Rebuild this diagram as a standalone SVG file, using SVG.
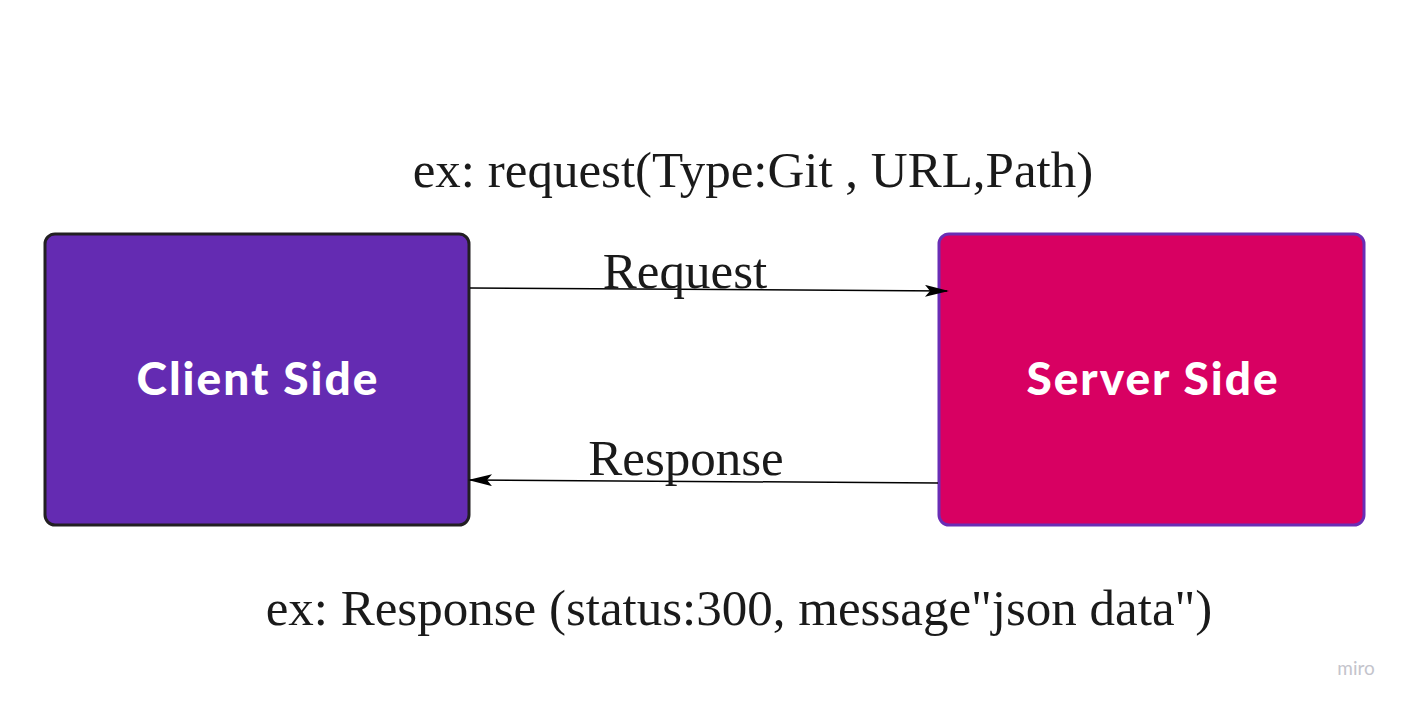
<svg xmlns="http://www.w3.org/2000/svg" width="1410" height="708" viewBox="0 0 1410 708">
<defs>
<style>
.lbl{font-family:"Liberation Serif","Times New Roman",serif;fill:#1a1a1a;font-size:51px;text-anchor:middle;}
.node-text{font-family:Lato,"Open Sans","Liberation Sans",sans-serif;font-weight:900;fill:#ffffff;font-size:46px;letter-spacing:2px;text-anchor:middle;}
.conn{stroke:#000;stroke-width:1.5;fill:none;marker-end:url(#arr);}
</style>
<marker id="arr" viewBox="0 0 24 12" refX="22" refY="6" markerWidth="24" markerHeight="12" markerUnits="userSpaceOnUse" orient="auto">
<path d="M0,0 L24,6 L0,12 L5,6 Z" fill="#000"/>
</marker>
</defs>
<rect width="1410" height="708" fill="#ffffff"/>
<g id="client">
<rect x="45" y="234" width="424" height="291" rx="10" fill="#642bb2" stroke="#221f22" stroke-width="3"/>
<text class="node-text" x="258" y="395">Client Side</text>
</g>
<g id="server">
<rect x="939" y="234" width="425" height="291" rx="10" fill="#d80062" stroke="#6a2db5" stroke-width="3"/>
<text class="node-text" x="1153" y="395">Server Side</text>
</g>
<g id="connectors">
<path class="conn" d="M470,288 L947,291"/>
<path class="conn" d="M938,483 L470,480"/>
</g>
<g id="labels">
<text class="lbl" x="685" y="288">Request</text>
<text class="lbl" x="686" y="475">Response</text>
<text class="lbl" x="753" y="187">ex: request(Type:Git , URL,Path)</text>
<text class="lbl" x="739" y="625">ex: Response (status:300, message"json data")</text>
</g>
<text x="1356" y="675" font-family="Lato,'Open Sans',sans-serif" font-size="19" fill="#c4c4cc" text-anchor="middle">miro</text>
</svg>
